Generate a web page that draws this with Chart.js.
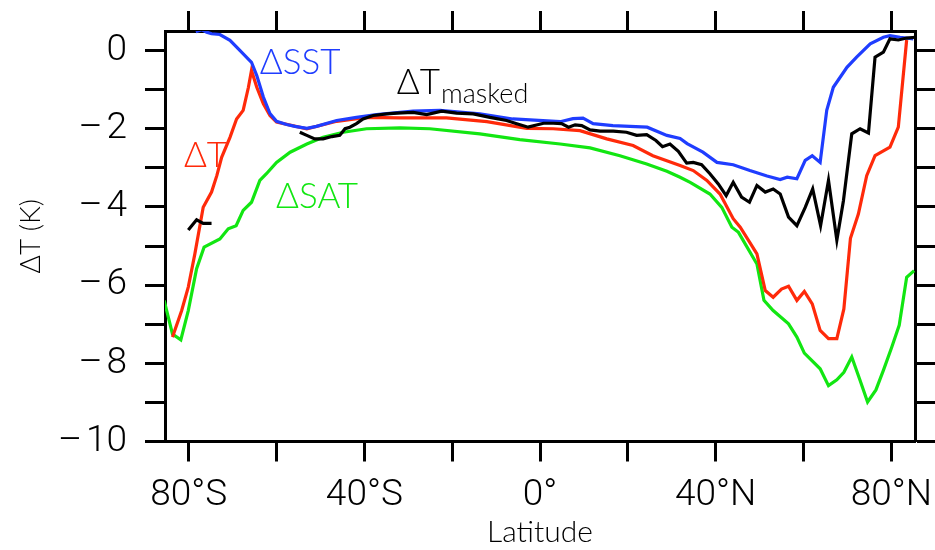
<!DOCTYPE html>
<html><head><meta charset="utf-8">
<script src="https://cdn.jsdelivr.net/npm/chart.js@4"></script>
<style>html,body{margin:0;padding:0;background:#fff;} #wrap{width:935px;height:550px;position:relative;}</style>
</head><body><div id="wrap"><canvas id="c" width="935" height="550"></canvas></div>
<script>
// ---- data ----
const latSST = [-78.4, -77, -75.9, -74.8, -72.9, -70.6, -68.3, -65.7, -64.5, -63.0, -61.5, -60.0, -57.7, -55.8, -53.1, -50.9, -46.3, -41.8, -37.2, -31.9, -28.9, -22.8, -13.7, -6.2, 4.6, 7.5, 9.8, 12.1, 16.6, 20.5, 24.4, 28.9, 31.9, 33.5, 37.1, 40.3, 44.0, 47.8, 51.7, 54.7, 56.3, 58.5, 60.4, 62.0, 63.8, 65.3, 66.8, 69.9, 72.1, 75.2, 78.2, 79.7, 82.0, 85.0];
const sst = [0.48, 0.53, 0.47, 0.43, 0.41, 0.26, 0.0, -0.30, -0.64, -1.19, -1.61, -1.81, -1.89, -1.94, -1.99, -1.94, -1.79, -1.71, -1.64, -1.58, -1.55, -1.53, -1.62, -1.75, -1.82, -1.74, -1.73, -1.87, -1.92, -1.94, -1.96, -2.17, -2.25, -2.38, -2.60, -2.86, -2.92, -3.07, -3.21, -3.30, -3.24, -3.28, -2.81, -2.69, -2.86, -1.53, -0.94, -0.43, -0.17, 0.17, 0.34, 0.38, 0.34, 0.30];

const latT = [-83.7, -81.6, -80.1, -78.6, -76.7, -74.8, -73.6, -72.5, -70.6, -69.1, -67.6, -66.4, -65.7, -64.5, -63.0, -61.5, -60.0, -53.1, -46.3, -39.5, -31.9, -28.9, -21.3, -12.1, -3.0, 3.0, 9.1, 15.2, 21.2, 25.7, 31.9, 34.9, 38.0, 41.0, 44.0, 45.6, 49.4, 51.3, 53.1, 55.0, 56.6, 58.5, 60.2, 62.0, 63.8, 65.7, 67.6, 69.2, 70.7, 72.5, 74.4, 76.3, 79.7, 81.6, 83.5];
const dT = [-7.33, -6.65, -6.05, -5.20, -4.01, -3.62, -3.20, -2.73, -2.22, -1.75, -1.53, -0.94, -0.51, -0.94, -1.36, -1.66, -1.83, -2.00, -1.81, -1.71, -1.72, -1.72, -1.72, -1.82, -1.99, -2.00, -2.05, -2.26, -2.43, -2.69, -2.94, -3.07, -3.32, -3.67, -4.30, -4.52, -5.20, -6.14, -6.31, -6.10, -6.03, -6.39, -6.16, -6.48, -7.16, -7.37, -7.37, -6.61, -4.80, -4.18, -3.20, -2.69, -2.47, -1.96, 0.27];

const latSAT = [-85.6, -83.7, -81.8, -80.1, -78.2, -76.5, -72.9, -71.0, -69.2, -67.6, -65.7, -63.8, -62.3, -60.0, -56.9, -53.1, -49.4, -44.8, -39.5, -31.9, -25.1, -13.7, -4.6, 4.6, 11.4, 18.2, 24.3, 28.9, 31.9, 34.2, 38.7, 41.4, 43.7, 45.2, 49.4, 51.0, 53.1, 56.6, 58.5, 60.2, 63.8, 65.7, 67.6, 69.2, 71.0, 72.9, 74.6, 76.5, 78.2, 80.1, 81.8, 83.5, 85.2];
const sat = [-6.39, -7.25, -7.40, -6.65, -5.58, -5.03, -4.82, -4.56, -4.48, -4.09, -3.88, -3.32, -3.15, -2.86, -2.60, -2.39, -2.22, -2.09, -2.00, -1.98, -2.00, -2.13, -2.28, -2.39, -2.49, -2.69, -2.90, -3.09, -3.24, -3.37, -3.67, -4.01, -4.52, -4.65, -5.46, -6.39, -6.65, -6.99, -7.33, -7.74, -8.14, -8.57, -8.42, -8.23, -7.84, -8.44, -8.99, -8.68, -8.18, -7.59, -7.03, -5.80, -5.63];

const latMasked = [-80.1, -78.2, -76.7, -74.8, -65.0, -54.7, -53.1, -51.3, -49.4, -47.4, -45.6, -44.4, -43.3, -41.8, -40.3, -38.0, -34.9, -32.6, -28.9, -25.8, -22.4, -19.0, -15.2, -11.4, -7.6, -5.3, -2.7, 0.8, 3.0, 4.9, 6.5, 8.0, 9.5, 11.4, 13.7, 16.7, 19.7, 22.0, 24.3, 26.4, 27.9, 29.6, 31.5, 33.4, 34.9, 36.8, 38.7, 40.6, 42.4, 44.0, 45.9, 47.7, 49.4, 51.3, 53.1, 54.7, 56.6, 58.5, 60.4, 62.1, 63.9, 65.7, 67.6, 69.1, 71.0, 72.9, 74.8, 76.3, 78.2, 79.7, 81.6, 83.5, 85.4];
const masked = [-4.59, -4.33, -4.42, -4.42, null, -2.09, -2.17, -2.26, -2.26, -2.20, -2.17, -2.00, -1.96, -1.87, -1.75, -1.66, -1.62, -1.60, -1.58, -1.64, -1.55, -1.60, -1.62, -1.71, -1.79, -1.87, -1.96, -1.86, -1.86, -1.87, -1.96, -1.90, -1.92, -2.03, -2.06, -2.06, -2.09, -2.17, -2.15, -2.30, -2.46, -2.39, -2.58, -2.88, -2.86, -2.92, -3.15, -3.41, -3.71, -3.37, -3.75, -3.88, -3.45, -3.62, -3.54, -3.67, -4.26, -4.48, -4.01, -3.54, -4.48, -3.32, -4.85, -3.84, -2.13, -2.00, -2.11, -0.17, -0.04, 0.30, 0.27, 0.32, 0.34];

const xTickValues = [-80, -60, -40, -20, 0, 20, 40, 60, 80];
const xTickLabels = ['80°S', '', '40°S', '', '0°', '', '40°N', '', '80°N'];
const yTickValues = [-10, -9, -8, -7, -6, -5, -4, -3, -2, -1, 0];
const yTickLabels = ['–\u200A10', '', '–\u200A8', '', '–\u200A6', '', '–\u200A4', '', '–\u200A2', '', '0'];

// curve labels: text, anchor lat, anchor value, colour
const curveLabels = [
  {text: 'ΔSST', lat: -63.8, val: -0.59, color: '#1f3dff'},
  {text: 'ΔT', lat: -81.1, val: -2.97, color: '#ff2a0a'},
  {text: 'ΔSAT', lat: -60.1, val: -4.02, color: '#12e612'},
  {text: 'ΔT', sub: 'masked', lat: -32.6, val: -1.10, color: '#000000'}
];

const toXY = (xs, ys) => xs.map((x, i) => ({x: x, y: ys[i]}));

const TICK_FONT = "Roboto, 'Liberation Sans', Arial, sans-serif";
const LABEL_FONT = "Lato, 'Open Sans', sans-serif";

const labelPlugin = {
  id: 'curveLabels',
  afterDatasetsDraw(chart) {
    const ctx = chart.ctx, xs = chart.scales.x, ys = chart.scales.y;
    ctx.save();
    ctx.textBaseline = 'alphabetic';
    ctx.textAlign = 'left';
    curveLabels.forEach(l => {
      const px = xs.getPixelForValue(l.lat), py = ys.getPixelForValue(l.val);
      ctx.fillStyle = l.color;
      ctx.font = '300 35px ' + LABEL_FONT;
      ctx.fillText(l.text, px, py);
      if (l.sub) {
        const w = ctx.measureText(l.text).width;
        ctx.font = '300 27px ' + LABEL_FONT;
        ctx.fillText(l.sub, px + w + 1, py + 9);
      }
    });
    ctx.restore();
  }
};

const common = (w) => ({
  borderWidth: w, pointRadius: 0, tension: 0, fill: false, spanGaps: false
});
const zeroPad = s => { s.paddingLeft = 0; s.paddingRight = 0; s.paddingTop = 0; s.paddingBottom = 0; };

new Chart(document.getElementById('c'), {
  type: 'line',
  data: {
    datasets: [
      Object.assign({label: 'ΔT masked', data: toXY(latMasked, masked), borderColor: '#000000'}, common(3.2)),
      Object.assign({label: 'ΔSST', data: toXY(latSST, sst), borderColor: '#1f3dff'}, common(3.2)),
      Object.assign({label: 'ΔT', data: toXY(latT, dT), borderColor: '#ff2a0a'}, common(3.2)),
      Object.assign({label: 'ΔSAT', data: toXY(latSAT, sat), borderColor: '#12e612'}, common(3.2))
    ]
  },
  options: {
    responsive: false,
    animation: false,
    devicePixelRatio: 1,
    layout: {padding: 0},
    plugins: {legend: {display: false}, tooltip: {enabled: false}},
    scales: {
      x: {
        type: 'linear', position: 'bottom', min: -85.4, max: 85.4,
        afterBuildTicks: s => { s.ticks = xTickValues.map(v => ({value: v})); },
        afterFit: s => { s.height = 108.5; zeroPad(s); },
        ticks: {
          autoSkip: false, maxRotation: 0, minRotation: 0, color: '#000', padding: 12,
          font: {family: TICK_FONT, size: 37, weight: '300'},
          callback: (v) => { const i = xTickValues.indexOf(v); return i < 0 ? null : xTickLabels[i]; }
        },
        grid: {drawOnChartArea: false, drawTicks: true, tickLength: 20, tickWidth: 3, tickColor: '#000'},
        border: {display: true, color: '#000', width: 3},
        title: {display: true, text: 'Latitude', color: '#000', font: {family: LABEL_FONT, size: 30, weight: '300'}, padding: {top: 0, bottom: 0}}
      },
      x2: {
        type: 'linear', position: 'top', min: -85.4, max: 85.4,
        afterBuildTicks: s => { s.ticks = xTickValues.map(v => ({value: v})); },
        afterFit: s => { s.height = 31; zeroPad(s); },
        ticks: {display: false},
        grid: {drawOnChartArea: false, drawTicks: true, tickLength: 20, tickWidth: 3, tickColor: '#000'},
        border: {display: true, color: '#000', width: 3}
      },
      y: {
        type: 'linear', position: 'left', min: -10, max: 0.5,
        afterBuildTicks: s => { s.ticks = yTickValues.map(v => ({value: v})); },
        afterFit: s => { s.width = 165; zeroPad(s); },
        ticks: {
          autoSkip: false, color: '#000', padding: 18,
          font: {family: TICK_FONT, size: 37, weight: '300'},
          callback: (v) => { const i = yTickValues.indexOf(v); return i < 0 ? null : yTickLabels[i]; }
        },
        grid: {drawOnChartArea: false, drawTicks: true, tickLength: 20, tickWidth: 3, tickColor: '#000'},
        border: {display: true, color: '#000', width: 3},
        title: {display: true, text: 'ΔT (K)', color: '#000', font: {family: LABEL_FONT, size: 28, weight: '300'}, padding: {top: 14, bottom: 0}}
      },
      y2: {
        type: 'linear', position: 'right', min: -10, max: 0.5,
        afterBuildTicks: s => { s.ticks = yTickValues.map(v => ({value: v})); },
        afterFit: s => { s.width = 20; zeroPad(s); },
        ticks: {display: false},
        grid: {drawOnChartArea: false, drawTicks: true, tickLength: 20, tickWidth: 3, tickColor: '#000'},
        border: {display: true, color: '#000', width: 3}
      }
    }
  },
  plugins: [labelPlugin]
});
</script>
</body></html>
